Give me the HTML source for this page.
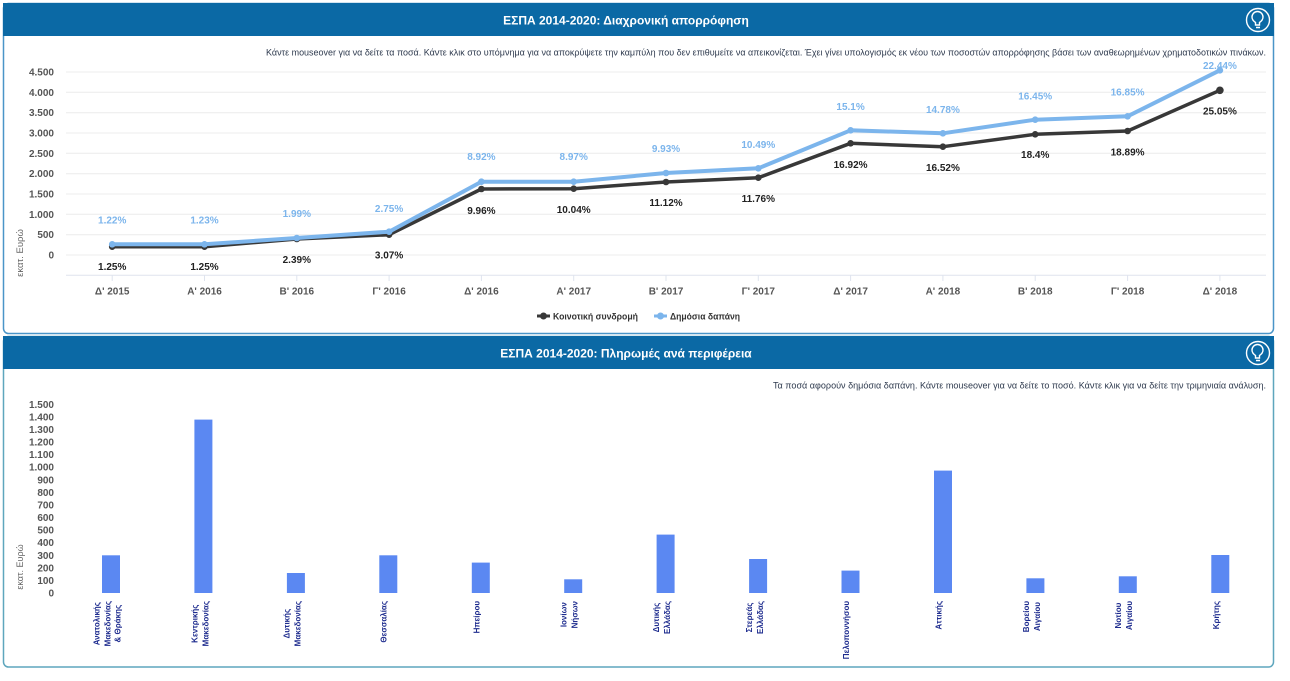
<!DOCTYPE html>
<html>
<head>
<meta charset="utf-8">
<style>
html,body{margin:0;padding:0;background:#fff;}
#wrap{position:relative;width:1290px;height:681px;overflow:hidden;font-family:"Liberation Sans","DejaVu Sans",sans-serif;}
svg{position:absolute;left:0;top:0;}
.bl{position:absolute;top:601px;transform-origin:top right;transform:rotate(-90deg);text-align:center;white-space:nowrap;font-weight:bold;font-size:8px;line-height:10.5px;color:#1f2d8f;}
</style>
</head>
<body>
<div id="wrap">
<svg width="1290" height="681" viewBox="0 0 1290 681" font-family="Liberation Sans, DejaVu Sans, sans-serif">
<rect width="1290" height="681" fill="#fff"/>
<!-- Panel 1 -->
<rect x="3.5" y="3.5" width="1270" height="330" rx="5" fill="#fff" stroke="#4a95c8" stroke-width="1.5"/>
<rect x="3" y="3" width="1271" height="33" fill="#0b69a5"/>
<text x="626" y="24.5" text-anchor="middle" fill="#fff" font-size="12" font-weight="bold">ΕΣΠΑ 2014-2020: Διαχρονική απορρόφηση</text>
<g stroke="#fff" stroke-width="1.4" fill="none">
<circle cx="1258" cy="20" r="11.5"/>
<path d="M1255.5,25 v-2.5 c-3,-2 -3.5,-4 -3.5,-5.5 a5.5,5.5 0 0 1 11,0 c0,1.5 -0.5,3.5 -3.5,5.5 v2.5 z M1256,27.5 h4"/>
</g>
<text x="266" y="55.5" textLength="1000" lengthAdjust="spacingAndGlyphs" fill="#2e3a4e" font-size="9.5">Κάντε mouseover για να δείτε τα ποσά. Κάντε κλικ στο υπόμνημα για να αποκρύψετε την καμπύλη που δεν επιθυμείτε να απεικονίζεται. Έχει γίνει υπολογισμός εκ νέου των ποσοστών απορρόφησης βάσει των αναθεωρημένων χρηματοδοτικών πινάκων.</text>
<!-- gridlines -->
<g stroke="#ececec" stroke-width="1">
<line x1="66" y1="72" x2="1266" y2="72"/>
<line x1="66" y1="92.3" x2="1266" y2="92.3"/>
<line x1="66" y1="112.7" x2="1266" y2="112.7"/>
<line x1="66" y1="133" x2="1266" y2="133"/>
<line x1="66" y1="153.3" x2="1266" y2="153.3"/>
<line x1="66" y1="173.7" x2="1266" y2="173.7"/>
<line x1="66" y1="194" x2="1266" y2="194"/>
<line x1="66" y1="214.3" x2="1266" y2="214.3"/>
<line x1="66" y1="234.7" x2="1266" y2="234.7"/>
<line x1="66" y1="255" x2="1266" y2="255"/>
</g>
<line x1="66" y1="275.3" x2="1266" y2="275.3" stroke="#dfe4ee" stroke-width="1"/>
<g stroke="#dfe4ee" stroke-width="1">
<line x1="112.2" y1="275" x2="112.2" y2="281"/><line x1="204.5" y1="275" x2="204.5" y2="281"/><line x1="296.8" y1="275" x2="296.8" y2="281"/><line x1="389.1" y1="275" x2="389.1" y2="281"/><line x1="481.4" y1="275" x2="481.4" y2="281"/><line x1="573.7" y1="275" x2="573.7" y2="281"/><line x1="666" y1="275" x2="666" y2="281"/><line x1="758.3" y1="275" x2="758.3" y2="281"/><line x1="850.6" y1="275" x2="850.6" y2="281"/><line x1="942.9" y1="275" x2="942.9" y2="281"/><line x1="1035.2" y1="275" x2="1035.2" y2="281"/><line x1="1127.6" y1="275" x2="1127.6" y2="281"/><line x1="1219.9" y1="275" x2="1219.9" y2="281"/>
</g>
<!-- y labels -->
<g font-size="10" font-weight="bold" fill="#555" text-anchor="end">
<text x="54" y="75.5">4.500</text>
<text x="54" y="95.8">4.000</text>
<text x="54" y="116.2">3.500</text>
<text x="54" y="136.5">3.000</text>
<text x="54" y="156.8">2.500</text>
<text x="54" y="177.2">2.000</text>
<text x="54" y="197.5">1.500</text>
<text x="54" y="217.8">1.000</text>
<text x="54" y="238.2">500</text>
<text x="54" y="258.5">0</text>
</g>
<text transform="translate(23,253) rotate(-90)" text-anchor="middle" font-size="9.5" fill="#666">εκατ. Ευρώ</text>
<!-- x labels -->
<g font-size="10" font-weight="bold" fill="#555" text-anchor="middle">
<text x="112.2" y="294.5">Δ' 2015</text>
<text x="204.5" y="294.5">Α' 2016</text>
<text x="296.8" y="294.5">Β' 2016</text>
<text x="389.1" y="294.5">Γ' 2016</text>
<text x="481.4" y="294.5">Δ' 2016</text>
<text x="573.7" y="294.5">Α' 2017</text>
<text x="666" y="294.5">Β' 2017</text>
<text x="758.3" y="294.5">Γ' 2017</text>
<text x="850.6" y="294.5">Δ' 2017</text>
<text x="942.9" y="294.5">Α' 2018</text>
<text x="1035.2" y="294.5">Β' 2018</text>
<text x="1127.6" y="294.5">Γ' 2018</text>
<text x="1219.9" y="294.5">Δ' 2018</text>
</g>
<!-- series -->
<polyline fill="none" stroke="#383838" stroke-width="3.5" stroke-linejoin="round" points="112.2,246.7 204.5,246.7 296.8,239 389.1,234.7 481.4,189 573.7,188.7 666,182 758.3,177.7 850.6,143.3 942.9,146.7 1035.2,134.3 1127.6,131 1219.9,90.3"/>
<g fill="#383838">
<circle cx="112.2" cy="246.7" r="3.3"/><circle cx="204.5" cy="246.7" r="3.3"/><circle cx="296.8" cy="239" r="3.3"/><circle cx="389.1" cy="234.7" r="3.3"/><circle cx="481.4" cy="189" r="3.3"/><circle cx="573.7" cy="188.7" r="3.3"/><circle cx="666" cy="182" r="3.3"/><circle cx="758.3" cy="177.7" r="3.3"/><circle cx="850.6" cy="143.3" r="3.3"/><circle cx="942.9" cy="146.7" r="3.3"/><circle cx="1035.2" cy="134.3" r="3.3"/><circle cx="1127.6" cy="131" r="3.3"/><circle cx="1219.9" cy="90.3" r="3.8"/>
</g>
<polyline fill="none" stroke="#7cb5ec" stroke-width="4" stroke-linejoin="round" points="112.2,244.3 204.5,244.3 296.8,238 389.1,231.7 481.4,181.7 573.7,181.7 666,173 758.3,168.3 850.6,130.3 942.9,133.3 1035.2,119.7 1127.6,116.3 1219.9,70.3"/>
<g fill="#7cb5ec">
<circle cx="112.2" cy="244.3" r="3.3"/><circle cx="204.5" cy="244.3" r="3.3"/><circle cx="296.8" cy="238" r="3.3"/><circle cx="389.1" cy="231.7" r="3.3"/><circle cx="481.4" cy="181.7" r="3.3"/><circle cx="573.7" cy="181.7" r="3.3"/><circle cx="666" cy="173" r="3.3"/><circle cx="758.3" cy="168.3" r="3.3"/><circle cx="850.6" cy="130.3" r="3.3"/><circle cx="942.9" cy="133.3" r="3.3"/><circle cx="1035.2" cy="119.7" r="3.3"/><circle cx="1127.6" cy="116.3" r="3.3"/><circle cx="1219.9" cy="70.3" r="3.3"/>
</g>
<!-- data labels -->
<g font-size="10" font-weight="bold" fill="#7cb5ec" text-anchor="middle">
<text x="112.2" y="223.5">1.22%</text>
<text x="204.5" y="223.5">1.23%</text>
<text x="296.8" y="217.2">1.99%</text>
<text x="389.1" y="211.8">2.75%</text>
<text x="481.4" y="160.2">8.92%</text>
<text x="573.7" y="160.2">8.97%</text>
<text x="666" y="152.2">9.93%</text>
<text x="758.3" y="147.8">10.49%</text>
<text x="850.6" y="110.2">15.1%</text>
<text x="942.9" y="112.8">14.78%</text>
<text x="1035.2" y="99.5">16.45%</text>
<text x="1127.6" y="95.5">16.85%</text>
<text x="1219.9" y="69.2">22.44%</text>
</g>
<g font-size="10" font-weight="bold" fill="#222" text-anchor="middle">
<text x="112.2" y="270.2">1.25%</text>
<text x="204.5" y="270.2">1.25%</text>
<text x="296.8" y="262.8">2.39%</text>
<text x="389.1" y="258.5">3.07%</text>
<text x="481.4" y="213.8">9.96%</text>
<text x="573.7" y="212.8">10.04%</text>
<text x="666" y="205.8">11.12%</text>
<text x="758.3" y="201.8">11.76%</text>
<text x="850.6" y="167.8">16.92%</text>
<text x="942.9" y="170.8">16.52%</text>
<text x="1035.2" y="158.2">18.4%</text>
<text x="1127.6" y="155.5">18.89%</text>
<text x="1219.9" y="114.5">25.05%</text>
</g>
<!-- legend -->
<line x1="537" y1="316" x2="550" y2="316" stroke="#383838" stroke-width="3"/>
<circle cx="543.5" cy="316" r="3.5" fill="#383838"/>
<text x="553" y="319.5" font-size="9.5" font-weight="bold" fill="#333" textLength="85" lengthAdjust="spacingAndGlyphs">Κοινοτική συνδρομή</text>
<line x1="654" y1="316" x2="667" y2="316" stroke="#7cb5ec" stroke-width="3"/>
<circle cx="660.5" cy="316" r="3.5" fill="#7cb5ec"/>
<text x="670" y="319.5" font-size="9.5" font-weight="bold" fill="#333" textLength="70" lengthAdjust="spacingAndGlyphs">Δημόσια δαπάνη</text>

<!-- Panel 2 -->
<rect x="3.5" y="336.5" width="1270" height="330.5" rx="5" fill="#fff" stroke="#5ea6bd" stroke-width="1.5"/>
<rect x="3" y="336" width="1271" height="33" fill="#0b69a5"/>
<text x="626" y="357.5" text-anchor="middle" fill="#fff" font-size="12" font-weight="bold">ΕΣΠΑ 2014-2020: Πληρωμές ανά περιφέρεια</text>
<g stroke="#fff" stroke-width="1.4" fill="none">
<circle cx="1258" cy="353" r="11.5"/>
<path d="M1255.5,358 v-2.5 c-3,-2 -3.5,-4 -3.5,-5.5 a5.5,5.5 0 0 1 11,0 c0,1.5 -0.5,3.5 -3.5,5.5 v2.5 z M1256,360.5 h4"/>
</g>
<text x="773" y="388.5" textLength="493" lengthAdjust="spacingAndGlyphs" fill="#2e3a4e" font-size="9.5">Τα ποσά αφορούν δημόσια δαπάνη. Κάντε mouseover για να δείτε το ποσό. Κάντε κλικ για να δείτε την τριμηνιαία ανάλυση.</text>
<g font-size="10" font-weight="bold" fill="#555" text-anchor="end">
<text x="54" y="407.8">1.500</text>
<text x="54" y="420.4">1.400</text>
<text x="54" y="433">1.300</text>
<text x="54" y="445.6">1.200</text>
<text x="54" y="458.1">1.100</text>
<text x="54" y="470.7">1.000</text>
<text x="54" y="483.3">900</text>
<text x="54" y="495.9">800</text>
<text x="54" y="508.5">700</text>
<text x="54" y="521">600</text>
<text x="54" y="533.6">500</text>
<text x="54" y="546.2">400</text>
<text x="54" y="558.8">300</text>
<text x="54" y="571.4">200</text>
<text x="54" y="583.9">100</text>
<text x="54" y="596.5">0</text>
</g>
<text transform="translate(23,567) rotate(-90)" text-anchor="middle" font-size="9" fill="#666">εκατ. Ευρώ</text>
<g fill="#5b88f2">
<rect x="102" y="555.3" width="18" height="37.7"/>
<rect x="194.4" y="419.6" width="18" height="173.4"/>
<rect x="286.9" y="573" width="18" height="20"/>
<rect x="379.3" y="555.3" width="18" height="37.7"/>
<rect x="471.8" y="562.6" width="18" height="30.4"/>
<rect x="564.2" y="579.3" width="18" height="13.7"/>
<rect x="656.6" y="534.6" width="18" height="58.4"/>
<rect x="749.1" y="559" width="18" height="34"/>
<rect x="841.5" y="570.6" width="18" height="22.4"/>
<rect x="934" y="470.6" width="18" height="122.4"/>
<rect x="1026.4" y="578.3" width="18" height="14.7"/>
<rect x="1118.8" y="576.3" width="18" height="16.7"/>
<rect x="1211.3" y="555" width="18" height="38"/>
</g>
</svg>
<div class="bl" style="right:1197.75px">Ανατολικής<br>Μακεδονίας<br>&amp; Θράκης</div>
<div class="bl" style="right:1100.1px">Κεντρικής<br>Μακεδονίας</div>
<div class="bl" style="right:1007.6px">Δυτικής<br>Μακεδονίας</div>
<div class="bl" style="right:909.95px">Θεσσαλίας</div>
<div class="bl" style="right:817.45px">Ηπείρου</div>
<div class="bl" style="right:730.3px">Ιονίων<br>Νήσων</div>
<div class="bl" style="right:637.9px">Δυτικής<br>Ελλάδας</div>
<div class="bl" style="right:545.4px">Στερεάς<br>Ελλάδας</div>
<div class="bl" style="right:447.75px">Πελοποννήσου</div>
<div class="bl" style="right:355.3px">Αττικής</div>
<div class="bl" style="right:268.1px">Βορείου<br>Αιγαίου</div>
<div class="bl" style="right:175.7px">Νοτίου<br>Αιγαίου</div>
<div class="bl" style="right:77.95px">Κρήτης</div>
</div>
</body>
</html>
